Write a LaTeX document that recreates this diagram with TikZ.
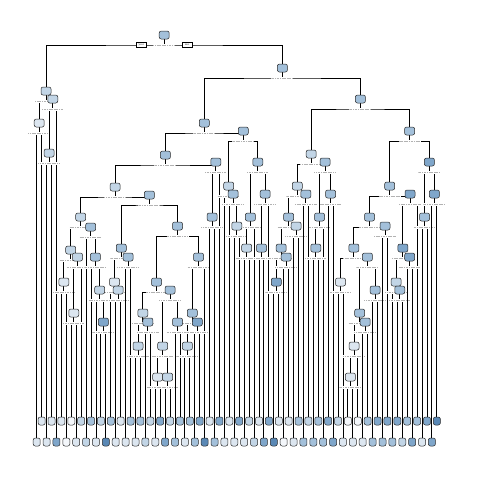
\documentclass[tikz,border=0pt]{standalone}
\usetikzlibrary{backgrounds}
\definecolor{b0}{HTML}{F4F7FB}
\definecolor{b1}{HTML}{DCE6F0}
\definecolor{b2}{HTML}{C2D5E6}
\definecolor{b3}{HTML}{A3C0DA}
\definecolor{b4}{HTML}{7FA6CA}
\definecolor{b5}{HTML}{5A88B5}
\tikzset{
  splitnode/.style={draw=black!85, line width=0.5pt, rounded corners=2pt, minimum width=10pt, minimum height=8pt, inner sep=0pt},
  leafnode/.style={splitnode, minimum width=7pt},
  splitlab/.style={fill=white, minimum width=22pt, minimum height=3pt, inner sep=0pt,
    path picture={\draw[black!30, line width=0.8pt, dash pattern=on 1.2pt off 0.5pt] (path picture bounding box.west) -- (path picture bounding box.east);}},
  yesno/.style={draw, fill=white, line width=0.5pt, minimum width=10pt, minimum height=5pt, inner sep=0pt, font=\fontsize{3}{3}\selectfont},
  branch/.style={line width=0.9pt}
}
\begin{document}
\begin{tikzpicture}[x=1pt, y=-1pt]
  \useasboundingbox (0,0) rectangle (480,480);
  % leaves, fallen to two rows
  \foreach \i/\c in {1/b1, 2/b1, 3/b1, 4/b1, 5/b4, 6/b1, 7/b0, 8/b0, 9/b1, 10/b2,
      11/b2, 12/b3, 13/b1, 14/b2, 15/b5, 16/b3, 17/b1, 18/b1, 19/b1, 20/b3,
      21/b1, 22/b3, 23/b2, 24/b2, 25/b1, 26/b4, 27/b4, 28/b2, 29/b3, 30/b3,
      31/b1, 32/b3, 33/b3, 34/b4, 35/b5, 36/b1, 37/b3, 38/b4, 39/b1, 40/b1,
      41/b1, 42/b4, 43/b1, 44/b2, 45/b2, 46/b1, 47/b4, 48/b4, 49/b5, 50/b1,
      51/b0, 52/b1, 53/b1, 54/b3, 55/b3, 56/b2, 57/b3, 58/b3, 59/b3, 60/b4,
      61/b4, 62/b2, 63/b1, 64/b0, 65/b1, 66/b0, 67/b1, 68/b3, 69/b3, 70/b4,
      71/b3, 72/b4, 73/b3, 74/b4, 75/b2, 76/b3, 77/b4, 78/b3, 79/b1, 80/b4,
      81/b4, 82/b5}{
    \pgfmathsetmacro\lx{36.7+(\i-1)*4.94}
    \pgfmathsetmacro\ly{isodd(\i) ? 442 : 421}
    \node[leafnode, fill=\c] (l\i) at (\lx,\ly) {};
  }
  % split nodes, numbered as in rpart
  \foreach \n/\x/\y/\c in {1/164.2/35/b3, 2/46.0/91/b2, 4/39.2/123/b1, 5/52.8/99/b2,
      10/49.1/153/b2, 3/282.4/68/b3, 6/204.3/123/b3, 12/165.4/155/b3, 24/115.1/187/b2,
      48/80.7/217/b2, 96/70.7/250/b2, 192/63.9/282/b1, 193/77.5/257/b2, 386/73.8/313/b1,
      97/90.7/227/b3, 195/95.4/257/b3, 391/99.7/290/b2, 783/103.4/322/b4, 49/149.4/195/b3,
      98/121.3/248/b3, 196/114.5/282/b1, 393/118.2/290/b2, 197/128.1/257/b3, 99/177.5/226/b3,
      198/156.5/282/b3, 396/142.9/313/b2, 792/138.0/346/b2, 793/147.9/322/b3, 397/170.1/290/b3,
      794/162.7/346/b2, 1588/157.7/377/b1, 1589/167.6/377/b2, 795/177.5/322/b3, 199/198.5/257/b3,
      398/192.3/313/b3, 796/187.4/346/b2, 797/197.3/322/b4, 25/215.8/162/b3, 50/212.1/217/b3,
      13/243.3/131/b3, 26/228.7/186/b2, 53/233.1/194/b3, 107/236.8/226/b2, 27/257.8/162/b3,
      54/250.4/217/b3, 108/246.7/248/b2, 55/265.2/194/b3, 110/261.5/248/b3, 7/360.4/99/b3,
      14/311.2/154/b2, 28/297.3/186/b2, 56/288.6/217/b3, 112/281.2/248/b3, 224/276.3/282/b4,
      225/286.2/257/b3, 113/296.1/226/b2, 57/305.9/194/b3, 29/325.1/162/b3, 58/319.5/217/b3,
      116/315.8/248/b3, 59/330.6/194/b3, 15/409.6/131/b3, 30/389.7/186/b3, 60/369.5/217/b3,
      120/353.9/248/b3, 240/340.5/282/b1, 241/367.4/257/b3, 482/359.7/313/b3, 964/354.1/346/b1,
      1928/350.4/377/b1, 965/365.2/322/b3, 483/375.1/290/b3, 121/385.0/226/b3, 61/410.0/194/b4,
      122/402.9/248/b4, 244/396.1/282/b2, 489/399.8/290/b3, 245/409.7/257/b4, 31/429.4/162/b4,
      62/424.5/217/b3, 63/434.4/194/b4}{
    \node[splitnode, fill=\c] (n\n) at (\x,\y) {};
  }
  \begin{scope}[on background layer]
    \foreach \pa/\lc/\rc in {1/n2/n3, 2/n4/n5, 4/l1/l2, 5/n10/l5, 10/l3/l4, 3/n6/n7,
        6/n12/n13, 12/n24/n25, 24/n48/n49, 48/n96/n97, 96/n192/n193, 192/l6/l7,
        193/n386/l10, 386/l8/l9, 97/l11/n195, 195/l12/n391, 391/l13/n783, 783/l14/l15,
        49/n98/n99, 98/n196/n197, 196/l16/n393, 393/l17/l18, 197/l19/l20, 99/n198/n199,
        198/n396/n397, 396/n792/n793, 792/l21/l22, 793/l23/l24, 397/n794/n795,
        794/n1588/n1589, 1588/l25/l26, 1589/l27/l28, 795/l29/l30, 199/n398/l35,
        398/n796/n797, 796/l31/l32, 797/l33/l34, 25/n50/l38, 50/l36/l37, 13/n26/n27,
        26/l39/n53, 53/l40/n107, 107/l41/l42, 27/n54/n55, 54/n108/l45, 108/l43/l44,
        55/n110/l48, 110/l46/l47, 7/n14/n15, 14/n28/n29, 28/n56/n57, 56/n112/n113,
        112/n224/n225, 224/l49/l50, 225/l51/l52, 113/l53/l54, 57/l55/l56, 29/n58/n59,
        58/n116/l59, 116/l57/l58, 59/l60/l61, 15/n30/n31, 30/n60/n61, 60/n120/n121,
        120/n240/n241, 240/l62/l63, 241/n482/n483, 482/n964/n965, 964/n1928/l66,
        1928/l64/l65, 965/l67/l68, 483/l69/l70, 121/l71/l72, 61/n122/l78, 122/n244/n245,
        244/l73/n489, 489/l74/l75, 245/l76/l77, 31/n62/n63, 62/l79/l80, 63/l81/l82}{
      \draw[branch] (\lc) |- ([yshift=-10pt]n\pa.center) -| (\rc);
      \draw[branch] (n\pa) -- ([yshift=-10pt]n\pa.center);
      \node[splitlab] (s\pa) at ([yshift=-10pt]n\pa.center) {};
    }
  \end{scope}
  \node[yesno] (yes) at ([xshift=-23pt,yshift=-10pt]n1.center) {yes};
  \node[yesno] (no) at ([xshift=23pt,yshift=-10pt]n1.center) {no};
\end{tikzpicture}
\end{document}
